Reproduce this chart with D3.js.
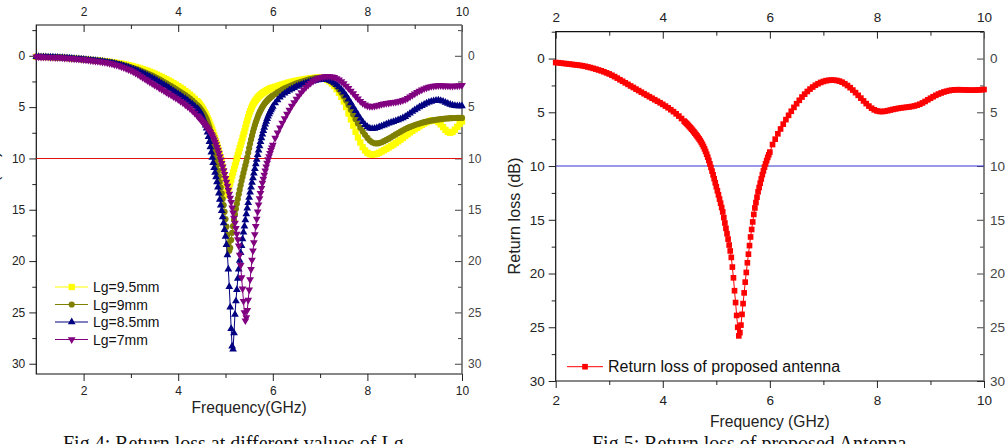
<!DOCTYPE html>
<html>
<head>
<meta charset="utf-8">
<script src="https://cdn.jsdelivr.net/npm/d3@7"></script>
<style>
  body { margin: 0; background: #fff; }
  svg { display: block; }
</style>
</head>
<body>
<svg id="fig" width="1005" height="444"></svg>
<script>
// sweep grid of the simulation: medium steps, fine steps around the notch
const sweepSegments = [[1.0, 4.4, 0.05], [4.42, 6.0, 0.02], [6.05, 10.0, 0.05]];
const freqGHz = sweepSegments.flatMap(([from, to, step]) =>
  d3.range(Math.round((to - from) / step) + 1).map((i) => +(from + i * step).toFixed(2))
);

// return loss (dB), one value per sweep point
const lg95 = [
  0.10, 0.10, 0.11, 0.11, 0.12, 0.12, 0.13, 0.14, 0.15, 0.16,
  0.17, 0.18, 0.20, 0.21, 0.23, 0.24, 0.26, 0.28, 0.30, 0.32,
  0.34, 0.36, 0.38, 0.40, 0.42, 0.44, 0.46, 0.48, 0.51, 0.53,
  0.56, 0.59, 0.62, 0.65, 0.69, 0.73, 0.77, 0.81, 0.86, 0.91,
  0.97, 1.03, 1.09, 1.16, 1.23, 1.30, 1.38, 1.46, 1.55, 1.64,
  1.74, 1.84, 1.95, 2.06, 2.17, 2.29, 2.41, 2.54, 2.67, 2.81,
  2.95, 3.10, 3.26, 3.43, 3.60, 3.79, 3.98, 4.19, 4.42,
  4.52, 4.63, 4.75, 4.88, 5.02, 5.17, 5.33, 5.50, 5.68, 5.87,
  6.07, 6.28, 6.50, 6.73, 6.97, 7.22, 7.48, 7.75, 8.03, 8.32,
  8.62, 8.93, 9.26, 9.60, 9.96, 10.36, 10.80, 11.30, 11.90, 12.60,
  13.30, 13.60, 13.20, 12.80, 12.42, 12.06, 11.71, 11.37, 11.03, 10.69,
  10.35, 10.01, 9.67, 9.33, 9.00, 8.67, 8.34, 8.01, 7.68, 7.36,
  7.00, 6.65, 6.30, 5.98, 5.68, 5.41, 5.17, 4.95, 4.76, 4.59,
  4.44, 4.31, 4.19, 4.08, 3.98, 3.89, 3.81, 3.73, 3.66, 3.59,
  3.53, 3.47, 3.41, 3.36, 3.31, 3.26, 3.21, 3.17, 3.13, 3.09,
  3.02, 2.94, 2.86, 2.79, 2.72, 2.65, 2.59, 2.53, 2.48, 2.43,
  2.38, 2.34, 2.30, 2.26, 2.22, 2.19, 2.16, 2.14, 2.12, 2.13,
  2.17, 2.24, 2.35, 2.50, 2.70, 2.95, 3.25, 3.60, 4.00, 4.45,
  5.00, 5.62, 6.20, 6.80, 7.40, 7.95, 8.45, 8.90, 9.22, 9.45,
  9.58, 9.63, 9.60, 9.55, 9.45, 9.33, 9.20, 9.07, 8.93, 8.79,
  8.65, 8.50, 8.34, 8.17, 8.00, 7.82, 7.64, 7.47, 7.31, 7.16,
  7.02, 6.87, 6.73, 6.60, 6.48, 6.38, 6.30, 6.28, 6.33, 6.46,
  6.68, 6.95, 7.22, 7.42, 7.50, 7.42, 7.20, 6.92, 6.64, 6.40
];

const lg9 = [
  0.10, 0.10, 0.11, 0.11, 0.12, 0.12, 0.13, 0.14, 0.15, 0.16,
  0.17, 0.18, 0.20, 0.21, 0.23, 0.25, 0.27, 0.29, 0.31, 0.33,
  0.35, 0.37, 0.39, 0.41, 0.43, 0.45, 0.48, 0.50, 0.53, 0.56,
  0.59, 0.62, 0.66, 0.70, 0.75, 0.80, 0.86, 0.92, 0.98, 1.05,
  1.12, 1.19, 1.27, 1.35, 1.44, 1.53, 1.63, 1.73, 1.83, 1.94,
  2.05, 2.17, 2.29, 2.42, 2.55, 2.68, 2.82, 2.96, 3.10, 3.24,
  3.38, 3.53, 3.68, 3.84, 4.00, 4.18, 4.37, 4.58, 4.80,
  4.90, 5.00, 5.11, 5.23, 5.36, 5.50, 5.65, 5.82, 6.00, 6.20,
  6.43, 6.69, 6.98, 7.30, 7.66, 8.05, 8.50, 9.00, 9.55, 10.10,
  10.65, 11.20, 11.75, 12.30, 12.85, 13.40, 13.95, 14.55, 15.20, 15.90,
  16.65, 17.45, 18.30, 19.00, 18.70, 17.95, 17.25, 16.60, 16.00, 15.45,
  14.92, 14.42, 13.94, 13.48, 13.04, 12.61, 12.20, 11.80, 11.41, 11.03,
  10.66, 10.30, 9.90, 9.45, 9.00, 8.57, 8.16, 7.78, 7.42, 7.08,
  6.77, 6.48, 6.21, 5.96, 5.73, 5.52, 5.33, 5.15, 4.99, 4.84,
  4.70, 4.58, 4.47, 4.37, 4.27, 4.18, 4.10, 4.02, 3.95, 3.88,
  3.72, 3.57, 3.43, 3.30, 3.18, 3.07, 2.97, 2.87, 2.78, 2.69,
  2.61, 2.53, 2.46, 2.39, 2.33, 2.27, 2.22, 2.18, 2.15, 2.14,
  2.15, 2.20, 2.28, 2.40, 2.56, 2.76, 3.00, 3.28, 3.60, 3.96,
  4.36, 4.80, 5.26, 5.72, 6.17, 6.60, 7.00, 7.37, 7.70, 8.00,
  8.25, 8.42, 8.52, 8.54, 8.50, 8.42, 8.32, 8.20, 8.07, 7.94,
  7.80, 7.66, 7.52, 7.39, 7.26, 7.14, 7.03, 6.93, 6.84, 6.75,
  6.67, 6.60, 6.53, 6.47, 6.41, 6.36, 6.31, 6.27, 6.23, 6.20,
  6.17, 6.14, 6.12, 6.10, 6.08, 6.07, 6.06, 6.05, 6.05, 6.05
];

const lg85 = [
  0.10, 0.10, 0.11, 0.11, 0.12, 0.13, 0.14, 0.15, 0.16, 0.17,
  0.18, 0.19, 0.21, 0.22, 0.24, 0.26, 0.28, 0.30, 0.32, 0.34,
  0.36, 0.38, 0.40, 0.42, 0.45, 0.47, 0.50, 0.53, 0.56, 0.59,
  0.63, 0.67, 0.71, 0.76, 0.81, 0.87, 0.93, 1.00, 1.07, 1.15,
  1.23, 1.31, 1.40, 1.49, 1.59, 1.69, 1.80, 1.91, 2.03, 2.15,
  2.28, 2.41, 2.55, 2.69, 2.83, 2.97, 3.12, 3.27, 3.42, 3.57,
  3.72, 3.87, 4.03, 4.19, 4.36, 4.54, 4.72, 4.92, 5.14,
  5.22, 5.32, 5.44, 5.58, 5.76, 5.98, 6.22, 6.48, 6.76, 7.05,
  7.45, 7.90, 8.38, 8.88, 9.40, 9.92, 10.42, 10.90, 11.36, 11.80,
  12.30, 12.80, 13.40, 14.00, 14.55, 15.10, 15.70, 16.30, 16.95, 17.60,
  18.40, 19.40, 20.80, 22.50, 24.50, 26.60, 28.30, 28.60, 27.00, 25.20,
  23.90, 22.80, 21.70, 20.80, 19.95, 19.20, 18.50, 17.85, 17.20, 16.60,
  16.00, 15.42, 14.86, 14.32, 13.80, 13.30, 12.82, 12.35, 11.90, 11.45,
  11.00, 10.55, 10.10, 9.65, 9.20, 8.78, 8.38, 8.00, 7.64, 7.30,
  6.98, 6.68, 6.40, 6.14, 5.90, 5.68, 5.47, 5.28, 5.10, 4.94,
  4.60, 4.30, 4.05, 3.84, 3.66, 3.50, 3.36, 3.23, 3.11, 3.00,
  2.90, 2.81, 2.73, 2.65, 2.58, 2.51, 2.45, 2.40, 2.35, 2.32,
  2.30, 2.30, 2.33, 2.40, 2.50, 2.64, 2.82, 3.03, 3.28, 3.56,
  3.88, 4.23, 4.60, 4.98, 5.36, 5.74, 6.10, 6.43, 6.71, 6.92,
  7.05, 7.10, 7.08, 7.02, 6.94, 6.85, 6.76, 6.67, 6.58, 6.50,
  6.42, 6.34, 6.26, 6.17, 6.06, 5.93, 5.78, 5.61, 5.44, 5.28,
  5.13, 4.99, 4.86, 4.74, 4.63, 4.53, 4.45, 4.39, 4.35, 4.34,
  4.37, 4.44, 4.54, 4.65, 4.74, 4.81, 4.86, 4.89, 4.90, 4.90
];

// Lg=7mm is the proposed antenna, shown alone in the second figure
const lg7 = [
  0.10, 0.10, 0.11, 0.11, 0.12, 0.13, 0.14, 0.15, 0.16, 0.17,
  0.18, 0.19, 0.21, 0.22, 0.24, 0.26, 0.28, 0.30, 0.32, 0.34,
  0.37, 0.39, 0.42, 0.45, 0.48, 0.51, 0.54, 0.57, 0.60, 0.63,
  0.67, 0.72, 0.78, 0.84, 0.91, 0.98, 1.06, 1.14, 1.23, 1.33,
  1.43, 1.55, 1.68, 1.82, 1.97, 2.11, 2.26, 2.40, 2.55, 2.69,
  2.84, 2.98, 3.13, 3.27, 3.41, 3.55, 3.69, 3.83, 3.97, 4.11,
  4.26, 4.42, 4.58, 4.76, 4.94, 5.14, 5.35, 5.58, 5.82,
  5.92, 6.02, 6.12, 6.23, 6.34, 6.45, 6.57, 6.69, 6.81, 6.94,
  7.07, 7.20, 7.34, 7.48, 7.63, 7.80, 7.98, 8.18, 8.40, 8.64,
  8.90, 9.18, 9.48, 9.80, 10.13, 10.47, 10.82, 11.18, 11.55, 11.92,
  12.30, 12.68, 13.07, 13.46, 13.86, 14.27, 14.80, 15.30, 15.80, 16.30,
  16.80, 17.35, 17.90, 18.50, 19.40, 20.40, 21.60, 22.70, 23.90, 25.00,
  25.80, 25.50, 24.80, 23.80, 22.80, 21.80, 20.80, 19.90, 19.00, 18.20,
  17.40, 16.60, 15.90, 15.20, 14.50, 13.90, 13.40, 12.90, 12.40, 12.00,
  11.60, 11.20, 10.80, 10.45, 10.10, 9.80, 9.50, 9.20, 8.95, 8.70,
  8.00, 7.50, 7.00, 6.55, 6.10, 5.68, 5.28, 4.90, 4.54, 4.20,
  3.88, 3.58, 3.31, 3.06, 2.84, 2.65, 2.48, 2.34, 2.22, 2.13,
  2.06, 2.02, 2.00, 2.01, 2.04, 2.10, 2.20, 2.34, 2.51, 2.71,
  2.93, 3.17, 3.42, 3.68, 3.94, 4.19, 4.42, 4.62, 4.77, 4.87,
  4.92, 4.93, 4.90, 4.85, 4.79, 4.73, 4.68, 4.63, 4.59, 4.56,
  4.53, 4.50, 4.46, 4.41, 4.34, 4.25, 4.13, 3.99, 3.84, 3.69,
  3.55, 3.42, 3.30, 3.20, 3.11, 3.04, 2.98, 2.94, 2.91, 2.90,
  2.90, 2.91, 2.92, 2.93, 2.94, 2.94, 2.93, 2.92, 2.90, 2.88
];

const lgSeries = [lg95, lg9, lg85, lg7];
const lgLabels = ["Lg=9.5mm", "Lg=9mm", "Lg=8.5mm", "Lg=7mm"];
const lgColors = ["#ffff00", "#808000", "#000080", "#800080"];
const lgSymbols = ["square", "circle", "up", "down"];

const xTicks = [2, 4, 6, 8, 10];
const xMinorTicks = [3, 5, 7, 9];
const yTicks = [0, 5, 10, 15, 20, 25, 30];
const yMinorTicks = [-2.5, 2.5, 7.5, 12.5, 17.5, 22.5, 27.5];
const thresholdDb = 10;

const proposedLabel = "Return loss of proposed antenna";
const captions = ["Fig 4: Return loss at different values of Lg", "Fig 5: Return loss of proposed Antenna"];

const sans = "'Liberation Sans', Arial, sans-serif";
const svg = d3.select("#fig");

function toPoints(values) {
  return freqGHz.map((f, i) => ({ f, v: values[i] })).filter((d) => d.v != null);
}

function symbolPath(kind, size) {
  const type = kind === "square" ? d3.symbolSquare : kind === "circle" ? d3.symbolCircle : d3.symbolTriangle;
  return d3.symbol(type, size)();
}

function drawMarkers(g, pts, x, y, kind, size, color) {
  const path = symbolPath(kind, size);
  const rot = kind === "down" ? " rotate(180)" : "";
  g.append("g")
    .selectAll("path")
    .data(pts)
    .join("path")
    .attr("d", path)
    .attr("transform", (d) => `translate(${x(d.f)},${y(d.v)})${rot}`)
    .attr("fill", color);
}

function drawPanel(p) {
  const g = svg.append("g");
  const x = d3.scaleLinear().domain(p.xDomain).range([p.left, p.right]);
  const y = d3.scaleLinear().domain(p.yDomain).range([p.top, p.bottom]);

  const styleAxis = (sel, color) => {
    sel.attr("font-family", sans).attr("font-size", p.tickFont);
    sel.selectAll("text").attr("fill", color);
    sel.selectAll("line").attr("stroke", color);
    sel.select(".domain").remove();
  };
  const xMinor = xMinorTicks.filter((t) => t > p.xDomain[0]);

  // bottom axis, ticks outward
  g.append("g").attr("transform", `translate(0,${p.bottom})`)
    .call(d3.axisBottom(x).tickValues(xTicks).tickSize(7).tickPadding(p.bottomPad).tickFormat(d3.format("d")))
    .call(styleAxis, "#222");
  g.append("g").attr("transform", `translate(0,${p.bottom})`)
    .call(d3.axisBottom(x).tickValues(xMinor).tickSize(4).tickFormat(""))
    .call(styleAxis, "#222");

  // top axis, ticks inward
  g.append("g").attr("transform", `translate(0,${p.top})`)
    .call(d3.axisTop(x).tickValues(xTicks).tickSize(-7).tickPadding(p.topPad).tickFormat(d3.format("d")))
    .call(styleAxis, "#222");
  g.append("g").attr("transform", `translate(0,${p.top})`)
    .call(d3.axisTop(x).tickValues(xMinor).tickSize(-4).tickFormat(""))
    .call(styleAxis, "#222");

  // left axis, ticks outward
  g.append("g").attr("transform", `translate(${p.left},0)`)
    .call(d3.axisLeft(y).tickValues(yTicks).tickSize(7).tickPadding(4))
    .call(styleAxis, "#222");
  g.append("g").attr("transform", `translate(${p.left},0)`)
    .call(d3.axisLeft(y).tickValues(yMinorTicks).tickSize(4).tickFormat(""))
    .call(styleAxis, "#222");

  // right axis, ticks inward, grey
  g.append("g").attr("transform", `translate(${p.right},0)`)
    .call(d3.axisRight(y).tickValues(yTicks).tickSize(-7).tickPadding(6))
    .call(styleAxis, "#444");
  g.append("g").attr("transform", `translate(${p.right},0)`)
    .call(d3.axisRight(y).tickValues(yMinorTicks).tickSize(-4).tickFormat(""))
    .call(styleAxis, "#444");

  // frame
  g.append("path")
    .attr("d", `M${p.right},${p.top}H${p.left}V${p.bottom}H${p.right}`)
    .attr("fill", "none").attr("stroke", "#111").attr("stroke-width", 1.2);
  g.append("line")
    .attr("x1", p.right).attr("x2", p.right).attr("y1", p.top).attr("y2", p.bottom)
    .attr("stroke", "#666").attr("stroke-width", 1.6);

  // -10 dB reference line
  g.append("line")
    .attr("x1", p.left).attr("x2", p.right)
    .attr("y1", y(thresholdDb)).attr("y2", y(thresholdDb))
    .attr("stroke", p.refColor).attr("stroke-width", 1.1);

  // axis titles
  g.append("text")
    .attr("x", (p.left + p.right) / 2).attr("y", p.xTitleY)
    .attr("text-anchor", "middle")
    .attr("font-family", sans).attr("font-size", 15.6).attr("fill", "#222")
    .text(p.xTitle);
  g.append("text")
    .attr("transform", `translate(${p.yTitleX},${p.yTitleY}) rotate(-90)`)
    .attr("text-anchor", "middle")
    .attr("font-family", sans).attr("font-size", 16.2).attr("fill", "#222")
    .text("Return loss (dB)");

  return { g, x, y };
}

// ---- Fig 4 ----
const left = drawPanel({
  left: 36.3, right: 462, top: 25, bottom: 374,
  xDomain: [1, 10], yDomain: [-3, 31],
  tickFont: 12, bottomPad: 5, topPad: 9,
  refColor: "#e01010",
  xTitle: "Frequency(GHz)", xTitleY: 412.5,
  yTitleX: -1, yTitleY: 210
});

const lgMarkerSize = [40, 30, 26, 26];
lgSeries.forEach((values, i) => {
  const pts = toPoints(values);
  left.g.append("path")
    .datum(pts)
    .attr("d", d3.line().x((d) => left.x(d.f)).y((d) => left.y(d.v)))
    .attr("fill", "none").attr("stroke", lgColors[i]).attr("stroke-width", 1);
  drawMarkers(left.g, pts, left.x, left.y, lgSymbols[i], lgMarkerSize[i], lgColors[i]);
});

const legend = left.g.append("g");
lgLabels.forEach((label, i) => {
  const ly = 287 + i * 17.5;
  legend.append("line").attr("x1", 55).attr("x2", 88).attr("y1", ly).attr("y2", ly)
    .attr("stroke", lgColors[i]).attr("stroke-width", 1);
  const rot = lgSymbols[i] === "down" ? " rotate(180)" : "";
  legend.append("path").attr("d", symbolPath(lgSymbols[i], lgMarkerSize[i]))
    .attr("transform", `translate(71.7,${ly})${rot}`).attr("fill", lgColors[i]);
  legend.append("text").attr("x", 93).attr("y", ly).attr("dy", "0.36em")
    .attr("font-family", sans).attr("font-size", 14).attr("fill", "#111").text(label);
});

// ---- Fig 5 ----
const right = drawPanel({
  left: 555.7, right: 984, top: 31.7, bottom: 381,
  xDomain: [2, 10], yDomain: [-2.5, 30],
  tickFont: 13.5, bottomPad: 7, topPad: 10,
  refColor: "#3535d0",
  xTitle: "Frequency (GHz)", xTitleY: 427,
  yTitleX: 520, yTitleY: 216
});

const proposedPts = toPoints(lg7).filter((d) => d.f >= 2);
right.g.append("path")
  .datum(proposedPts)
  .attr("d", d3.line().x((d) => right.x(d.f)).y((d) => right.y(d.v)))
  .attr("fill", "none").attr("stroke", "#ff0000").attr("stroke-width", 1);
drawMarkers(right.g, proposedPts, right.x, right.y, "square", 32, "#ff0000");

right.g.append("line").attr("x1", 567).attr("x2", 603).attr("y1", 366.7).attr("y2", 366.7)
  .attr("stroke", "#ff0000").attr("stroke-width", 1);
right.g.append("path").attr("d", symbolPath("square", 32))
  .attr("transform", "translate(585,366.7)").attr("fill", "#ff0000");
right.g.append("text").attr("x", 608).attr("y", 366.7).attr("dy", "0.36em")
  .attr("font-family", sans).attr("font-size", 16).attr("fill", "#111").text(proposedLabel);

// ---- captions ----
const serif = "'Liberation Serif', 'Times New Roman', serif";
svg.append("text").attr("x", 63).attr("y", 449.5)
  .attr("font-family", serif).attr("font-size", 20).attr("fill", "#111").text(captions[0]);
svg.append("text").attr("x", 592).attr("y", 450)
  .attr("font-family", serif).attr("font-size", 20).attr("fill", "#111").text(captions[1]);
</script>
</body>
</html>
